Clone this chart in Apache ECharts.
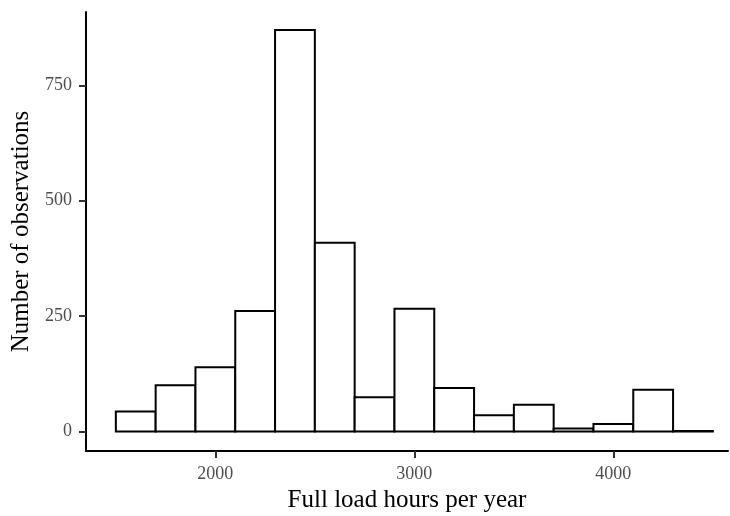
<!DOCTYPE html>
<html><head><meta charset="utf-8">
<script src="https://cdn.jsdelivr.net/npm/echarts@6/dist/echarts.min.js"></script>
<style>html,body{margin:0;padding:0;background:#fff}#c{width:730px;height:516px}</style>
</head><body><div id="c"></div>
<script>
const binStarts = [1500,1700,1900,2100,2300,2500,2700,2900,3100,3300,3500,3700,3900,4100,4300];
const binWidth = 200;
const counts = [43,100,139,261,870,409,74,266,94,35,58,6,16,90,1];
const xTicks = [2000,3000,4000];
const yTicks = [0,250,500,750];

const data = binStarts.map((s,i)=>[s, s+binWidth, counts[i]]);
const FONT = '"Liberation Serif", "DejaVu Serif", serif';
const chart = echarts.init(document.getElementById('c'), null, {renderer:'canvas'});
chart.setOption({
  animation:false,
  grid:{left:86,right:2,top:12,bottom:65,containLabel:false,outerBoundsMode:'none'},
  xAxis:{type:'value',min:1350,max:4576,
    name:'Full load hours per year',nameLocation:'middle',nameGap:36,
    nameTextStyle:{fontFamily:FONT,fontSize:25,color:'#000'},
    axisLine:{onZero:false,lineStyle:{color:'#000',width:2}},
    axisTick:{show:true,length:7,lineStyle:{color:'#333',width:2},customValues:xTicks},
    axisLabel:{customValues:xTicks,formatter:v=>String(v),fontFamily:FONT,fontSize:18,color:'#4d4d4d',margin:14},
    splitLine:{show:false}},
  yAxis:{type:'value',min:-42.5,max:909,
    name:'Number of observations',nameLocation:'middle',nameGap:52,
    nameTextStyle:{fontFamily:FONT,fontSize:25,color:'#000'},
    axisLine:{show:true,onZero:false,lineStyle:{color:'#000',width:2}},
    axisTick:{show:true,length:7,lineStyle:{color:'#333',width:2},customValues:yTicks},
    axisLabel:{customValues:yTicks,formatter:v=>String(v),fontFamily:FONT,fontSize:18,color:'#4d4d4d',margin:14},
    splitLine:{show:false}},
  series:[{type:'custom',data:data,
    renderItem:function(params,api){
      const p0=api.coord([api.value(0),0]);
      const p1=api.coord([api.value(1),api.value(2)]);
      return {type:'rect',shape:{x:p0[0],y:p1[1],width:p1[0]-p0[0],height:p0[1]-p1[1]},
        style:{fill:'#fff',stroke:'#000',lineWidth:2}};
    },
    encode:{x:[0,1],y:2}}]
});
</script></body></html>
